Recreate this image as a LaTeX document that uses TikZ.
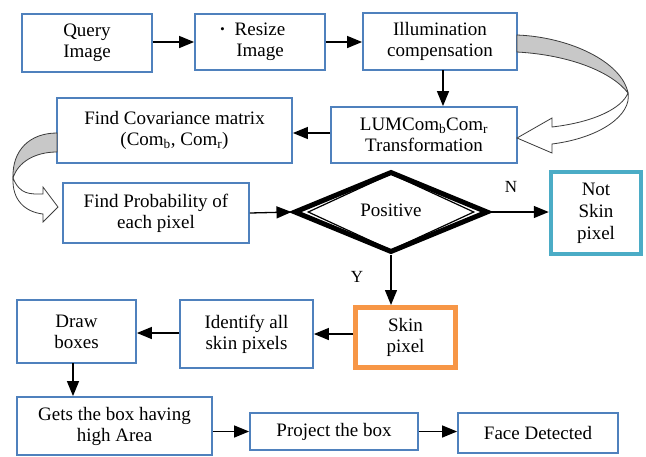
\documentclass[tikz,border=0pt]{standalone}
\usepackage{fontspec}
\setmainfont{Liberation Serif}
\usetikzlibrary{shapes.geometric,arrows.meta}
\definecolor{boxblue}{RGB}{79,129,189}
\definecolor{skinorange}{RGB}{247,150,70}
\definecolor{notteal}{RGB}{75,172,198}
\definecolor{ribbon}{RGB}{200,200,200}
\definecolor{ribbonline}{RGB}{60,60,60}
\tikzset{
  stepbox/.style={draw=boxblue, line width=1.8pt, fill=white, inner sep=0pt,
    align=center, font=\fontsize{19}{21}\selectfont},
  flowarrow/.style={line width=1.3pt, -{Triangle[length=15pt,width=12pt]}},
  ribbonback/.style={fill=ribbon, draw=ribbonline, line width=0.8pt},
  ribbonfront/.style={fill=white, draw=ribbonline, line width=0.8pt},
  lbl/.style={font=\fontsize{17}{19}\selectfont}
}
\begin{document}
\begin{tikzpicture}[x=1pt,y=-1pt]
\useasboundingbox (0,0) rectangle (646,456);

% process boxes
\node[stepbox, minimum width=130pt, minimum height=58pt] (query) at (87,43) {Query\\Image};
\node[stepbox, minimum width=130pt, minimum height=56pt] (resize) at (260,42) {\llap{\textbf{·}\hspace{9pt}}Resize\\Image};
\node[stepbox, minimum width=154pt, minimum height=57pt] (illum) at (440,41.5) {Illumination\\compensation};
\node[stepbox, minimum width=186pt, minimum height=56pt] (lum) at (424,135) {LUMCom\textsubscript{b}Com\textsubscript{r}\\Transformation};
\node[stepbox, minimum width=235pt, minimum height=65pt] (cov) at (174.5,130.5) {Find Covariance matrix\\(Com\textsubscript{b}, Com\textsubscript{r})};
\node[stepbox, minimum width=186pt, minimum height=60pt] (prob) at (156,213) {Find Probability of\\each pixel};

% decision
\node[diamond, draw=black, line width=5pt, inner sep=0pt, minimum width=194pt,
      minimum height=81pt] (pos) at (391,212) {};
\node[diamond, draw=black, line width=1.2pt, inner sep=0pt, minimum width=166pt,
      minimum height=69pt, font=\fontsize{19}{21}\selectfont] (posinner) at (391,212) {\raisebox{3pt}{Positive}};

\node[stepbox, draw=notteal, line width=4.5pt, minimum width=90pt, minimum height=82pt,
      font=\fontsize{19}{22}\selectfont] (notskin) at (596,213) {Not\\Skin\\pixel};
\node[stepbox, draw=skinorange, line width=5pt, minimum width=100pt, minimum height=60pt] (skin) at (405.5,337.5) {Skin\\pixel};
\node[stepbox, minimum width=133pt, minimum height=68pt] (ident) at (246.5,334) {Identify all\\skin pixels};
\node[stepbox, minimum width=119pt, minimum height=63pt] (drawb) at (76.5,331.5) {Draw\\boxes};
\node[stepbox, minimum width=195pt, minimum height=58pt] (gets) at (114.5,426) {Gets the box having\\high Area};
\node[stepbox, minimum width=168pt, minimum height=37pt] (proj) at (334,431.5) {Project the box};
\node[stepbox, minimum width=160pt, minimum height=40pt] (face) at (538,433) {Face Detected};

% straight connectors
\draw[flowarrow] (query.east |- 0,42) -- (resize.west |- 0,42);
\draw[flowarrow] (resize.east |- 0,42) -- (illum.west |- 0,42);
\draw[flowarrow] (443,70) coordinate (illumout) -- (illumout |- lum.north);
\draw[flowarrow] (lum.west |- 0,133) -- (cov.east |- 0,133);
\draw[flowarrow] (prob.east) -- (pos.west);
\draw[flowarrow] (pos.east) -- (pos.east -| notskin.west);
\draw[flowarrow] (pos.south) -- (pos.south |- skin.north);
\draw[flowarrow] (skin.west |- ident) -- (ident.east);
\draw[flowarrow] (ident.west |- 0,333) -- (drawb.east |- 0,333);
\draw[flowarrow] (73,363) coordinate (drawout) -- (drawout |- gets.north);
\draw[flowarrow] (gets.east |- proj) -- (proj.west);
\draw[flowarrow] (proj.east) -- (face.west |- proj);

% branch labels
\node[lbl] (nlabel) at (511,187) {N};
\node[lbl] (ylabel) at (357,277) {Y};

% curved block arrow: illumination -> transformation
\draw[ribbonback] (517,35) .. controls (570,37) and (622,62) .. (628,93)
  .. controls (612,72) and (570,55) .. (517,52) -- cycle;
\draw[ribbonfront] (628,93) .. controls (632,115) and (600,138) .. (552,144)
  -- (552,153) -- (517,138) -- (552,118) -- (552,127)
  .. controls (595,122) and (622,108) .. (628,93) -- cycle;

% curved block arrow: covariance -> probability
\draw[ribbonback] (57,133) .. controls (30,133) and (12,150) .. (13,178)
  .. controls (18,162) and (35,152) .. (57,152) -- cycle;
\draw[ribbonfront] (13,178) .. controls (20,195) and (30,194) .. (43,194)
  -- (43,187) -- (58,207) -- (43,222) -- (43,214)
  .. controls (25,212) and (12,200) .. (13,178) -- cycle;
\end{tikzpicture}
\end{document}
